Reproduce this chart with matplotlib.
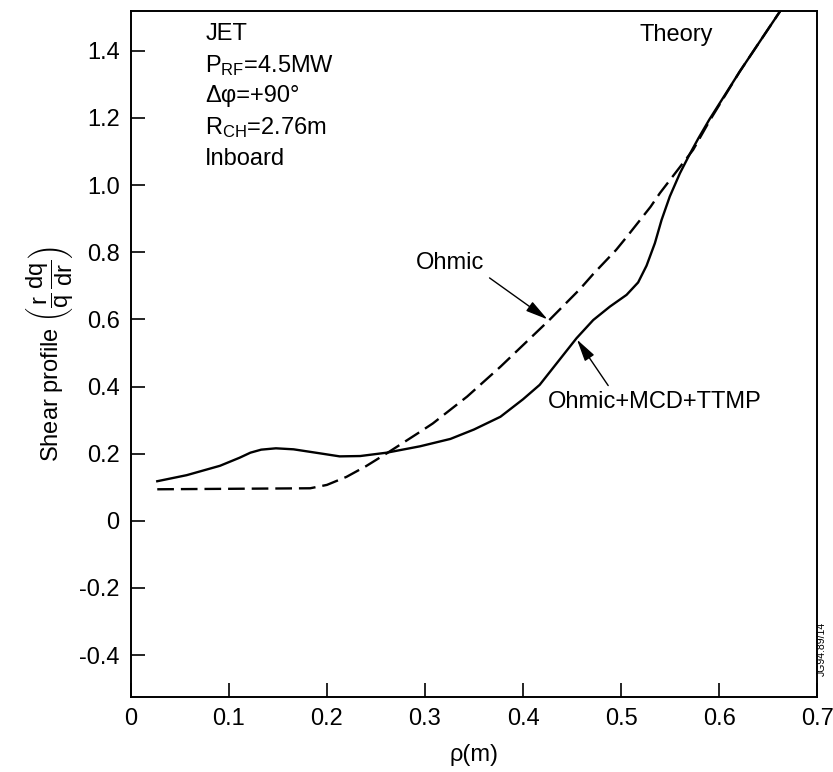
import numpy as np
from matplotlib import pyplot as plt

plt.rcParams['font.family'] = ['Liberation Sans', 'DejaVu Sans']
plt.rcParams['mathtext.fontset'] = 'custom'
plt.rcParams['mathtext.rm'] = 'Liberation Sans'
plt.rcParams['mathtext.it'] = 'Liberation Sans'
plt.rcParams['mathtext.bf'] = 'Liberation Sans:bold'
plt.rcParams['lines.scale_dashes'] = False

# Ohmic+MCD+TTMP (solid)
rho_full = [0.027, 0.057, 0.091, 0.111, 0.122, 0.133, 0.148, 0.166, 0.193,
            0.213, 0.234, 0.261, 0.295, 0.326, 0.350, 0.377, 0.400, 0.417,
            0.4546, 0.4716, 0.4886, 0.5056, 0.5174, 0.526, 0.5345, 0.5413,
            0.5497, 0.560, 0.570, 0.579, 0.590, 0.621, 0.665]
shear_full = [0.118, 0.136, 0.164, 0.188, 0.203, 0.212, 0.216, 0.213, 0.201,
              0.192, 0.193, 0.203, 0.222, 0.244, 0.272, 0.310, 0.362, 0.405,
              0.544, 0.598, 0.638, 0.673, 0.710, 0.760, 0.827, 0.896,
              0.966, 1.035, 1.092, 1.140, 1.195, 1.338, 1.53]

# Ohmic only (dashed)
rho_ohmic = [0.027, 0.183, 0.200, 0.220, 0.240, 0.261, 0.295, 0.308, 0.343,
             0.377, 0.4275, 0.458, 0.4716, 0.495, 0.5056, 0.530, 0.5396,
             0.5735, 0.590, 0.621, 0.665]
shear_ohmic = [0.094, 0.097, 0.107, 0.131, 0.163, 0.201, 0.265, 0.290, 0.370,
               0.459, 0.600, 0.690, 0.735, 0.807, 0.845, 0.935, 0.976,
               1.105, 1.190, 1.338, 1.53]

xticks = [0, 0.1, 0.2, 0.3, 0.4, 0.5, 0.6, 0.7]
xticklabels = ['0', '0.1', '0.2', '0.3', '0.4', '0.5', '0.6', '0.7']
yticks = [-0.4, -0.2, 0, 0.2, 0.4, 0.6, 0.8, 1.0, 1.2, 1.4]
yticklabels = ['-0.4', '-0.2', '0', '0.2', '0.4', '0.6', '0.8', '1.0', '1.2', '1.4']

info_lines = ['JET', r'P$_{\rm RF}$=4.5MW', u'\u0394\u03c6=+90\u00b0',
              r'R$_{\rm CH}$=2.76m', 'Inboard']

fs = 17
fig = plt.figure(figsize=(8.33, 7.72), dpi=100)
ax = fig.add_axes([0.157, 0.097, 0.824, 0.889])

ax.plot(rho_full, shear_full, color='black', lw=1.7)
ax.plot(rho_ohmic, shear_ohmic, color='black', lw=1.7, dashes=(12, 5))

ax.set_xlim(0, 0.7)
ax.set_ylim(-0.525, 1.519)
ax.set_xticks(xticks)
ax.set_xticklabels(xticklabels)
ax.set_yticks(yticks)
ax.set_yticklabels(yticklabels)
ax.tick_params(direction='in', length=10, width=1.2, labelsize=fs, pad=8)
for sp in ax.spines.values():
    sp.set_linewidth(1.4)

ax.set_xlabel(u'\u03c1(m)', fontsize=fs, labelpad=10)
ax.set_ylabel(r'Shear profile $\left(\dfrac{r}{q}\,\dfrac{dq}{dr}\right)$',
              fontsize=fs, labelpad=2)

ypos = 1.45
for line in info_lines:
    ax.text(0.076, ypos, line, fontsize=fs, va='center', ha='left')
    ypos -= 0.093

ax.text(0.519, 1.448, 'Theory', fontsize=fs, va='center', ha='left')

ax.annotate('Ohmic', xy=(0.425, 0.600), xytext=(0.291, 0.767),
            fontsize=fs, va='center', ha='left',
            arrowprops=dict(arrowstyle='-|>,head_length=0.8,head_width=0.2',
                            color='black', lw=1.0, shrinkA=2, shrinkB=0,
                            relpos=(1.0, 0.0)))
ax.annotate('Ohmic+MCD+TTMP', xy=(0.455, 0.540), xytext=(0.425, 0.355),
            fontsize=fs, va='center', ha='left',
            arrowprops=dict(arrowstyle='-|>,head_length=0.8,head_width=0.2',
                            color='black', lw=1.0, shrinkA=2, shrinkB=0,
                            relpos=(0.3, 1.0)))

fig.text(0.987, 0.16, 'JG94.89/14', rotation=90, fontsize=7.5,
         ha='center', va='center')

fig.savefig('out.png', dpi=100)
